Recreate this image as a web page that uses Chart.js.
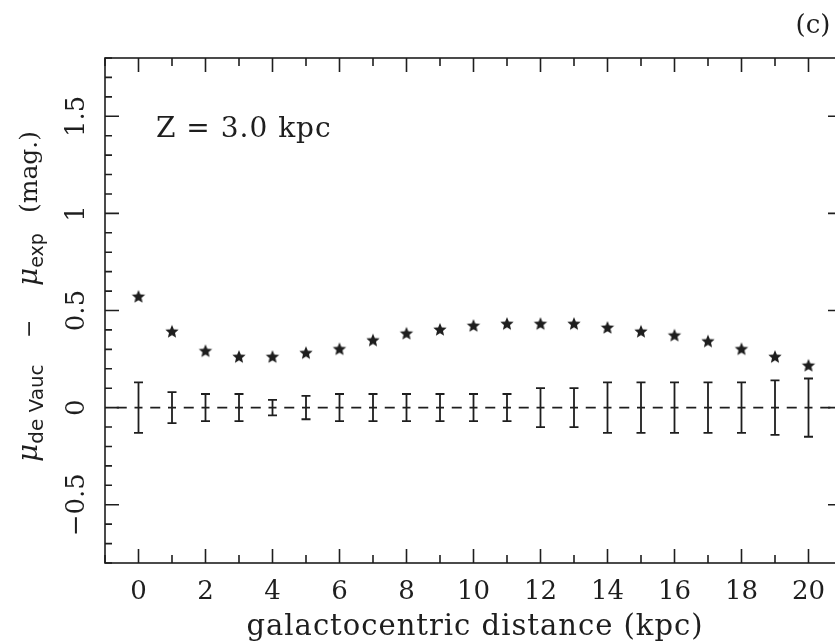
<!DOCTYPE html>
<html lang="en">
<head>
<meta charset="UTF-8">
<title>de Vaucouleurs minus exponential residuals, Z = 3.0 kpc</title>
<style>
  html, body { margin: 0; padding: 0; background: #fff; overflow: hidden; }
  #wrap { width: 860px; height: 644px; }
</style>
<script src="https://cdn.jsdelivr.net/npm/chart.js"></script>
</head>
<body>
<div id="wrap"><canvas id="chart" width="860" height="644"></canvas></div>
<script>
// data
const distances = [0, 1, 2, 3, 4, 5, 6, 7, 8, 9, 10, 11, 12, 13, 14, 15, 16, 17, 18, 19, 20];
const residuals = [0.57, 0.39, 0.29, 0.26, 0.26, 0.28, 0.30, 0.345, 0.38, 0.40, 0.42,
                   0.43, 0.43, 0.43, 0.41, 0.39, 0.37, 0.34, 0.30, 0.26, 0.215];
const errHalf   = [0.13, 0.08, 0.07, 0.07, 0.04, 0.06, 0.07, 0.07, 0.07, 0.07, 0.07,
                   0.07, 0.10, 0.10, 0.13, 0.13, 0.13, 0.13, 0.13, 0.14, 0.15];
const xTicks = [0, 2, 4, 6, 8, 10, 12, 14, 16, 18, 20];
const yTicks = [-0.5, 0, 0.5, 1, 1.5];
const yTickLabels = ['\u22120.5', '0', '0.5', '1', '1.5'];

const INK = '#1e1e1e';
const SERIF = '"DejaVu Serif", serif';
const SANS = '"DejaVu Sans", sans-serif';

// five pointed star marker
function makeStar(r) {
  const c = document.createElement('canvas');
  c.width = c.height = r * 2 + 2;
  const g = c.getContext('2d');
  g.translate(r + 1, r + 1);
  g.beginPath();
  for (let i = 0; i < 10; i++) {
    const rad = i % 2 === 0 ? r : r * 0.45;
    const a = -Math.PI / 2 + i * Math.PI / 5;
    g.lineTo(rad * Math.cos(a), rad * Math.sin(a));
  }
  g.closePath();
  g.fillStyle = INK;
  g.fill();
  return c;
}

const framePlugin = {
  id: 'frame',
  beforeDatasetsDraw(chart) {
    const ctx = chart.ctx;
    const a = chart.chartArea;
    const x = chart.scales.x, y = chart.scales.y;
    ctx.save();
    ctx.strokeStyle = INK;
    ctx.lineWidth = 1.6;
    ctx.strokeRect(a.left, a.top, a.right - a.left, a.bottom - a.top);

    // inward ticks
    for (let v = -1; v <= 21; v++) {
      const px = x.getPixelForValue(v);
      const len = v % 2 === 0 ? 14 : 8;
      ctx.beginPath();
      ctx.moveTo(px, a.bottom); ctx.lineTo(px, a.bottom - len);
      ctx.moveTo(px, a.top); ctx.lineTo(px, a.top + len);
      ctx.stroke();
    }
    for (let k = -8; k <= 18; k++) {
      const py = y.getPixelForValue(k / 10);
      const len = k % 5 === 0 ? 14 : 7;
      ctx.beginPath();
      ctx.moveTo(a.left, py); ctx.lineTo(a.left + len, py);
      ctx.moveTo(a.right, py); ctx.lineTo(a.right - len, py);
      ctx.stroke();
    }

    // dashed zero line, one dash between neighbouring bars
    const y0 = y.getPixelForValue(0);
    const step = x.getPixelForValue(1) - x.getPixelForValue(0);
    const dash = 10;
    ctx.setLineDash([dash, step - dash]);
    ctx.lineDashOffset = -(x.getPixelForValue(0.5) - dash / 2 - a.left);
    ctx.beginPath();
    ctx.moveTo(a.left, y0); ctx.lineTo(a.right, y0);
    ctx.stroke();
    ctx.setLineDash([]);

    // error bars about zero
    ctx.lineWidth = 1.8;
    distances.forEach((d, i) => {
      const px = x.getPixelForValue(d);
      const top = y.getPixelForValue(errHalf[i]);
      const bot = y.getPixelForValue(-errHalf[i]);
      ctx.beginPath();
      ctx.moveTo(px, top); ctx.lineTo(px, bot);
      ctx.moveTo(px - 4.5, top); ctx.lineTo(px + 4.5, top);
      ctx.moveTo(px - 4.5, bot); ctx.lineTo(px + 4.5, bot);
      ctx.moveTo(px - 4, y0); ctx.lineTo(px + 4, y0);
      ctx.stroke();
    });
    ctx.restore();
  },
  afterDraw(chart) {
    const ctx = chart.ctx;
    const a = chart.chartArea;
    const x = chart.scales.x, y = chart.scales.y;
    ctx.save();
    ctx.fillStyle = INK;

    // x tick labels
    ctx.font = '26px ' + SERIF;
    ctx.textAlign = 'center';
    ctx.textBaseline = 'middle';
    xTicks.forEach(v => ctx.fillText(String(v), x.getPixelForValue(v), a.bottom + 29));

    // y tick labels, rotated
    yTicks.forEach((v, i) => {
      ctx.save();
      ctx.translate(a.left - 28, y.getPixelForValue(v));
      ctx.rotate(-Math.PI / 2);
      ctx.fillText(yTickLabels[i], 0, 0);
      ctx.restore();
    });

    // x title
    ctx.font = '29px ' + SERIF;
    ctx.letterSpacing = '1px';
    ctx.fillText('galactocentric distance (kpc)', 475, a.bottom + 64);

    // panel letter
    ctx.letterSpacing = '0px';
    ctx.font = '26px ' + SERIF;
    ctx.fillText('(c)', 813, 26);

    // annotation
    ctx.textAlign = 'left';
    ctx.font = '28px ' + SERIF;
    ctx.letterSpacing = '1px';
    ctx.fillText('Z = 3.0 kpc', 156, 130);
    ctx.letterSpacing = '0px';

    // y title, rotated; each part placed by the screen y where it starts (bottom end)
    const parts = [
      { t: '\u03bc',    f: 'italic 28px ' + SERIF, dy: 0, at: 462 },
      { t: 'de Vauc',   f: '20px ' + SANS,         dy: 8 },
      { t: '\u2212',    f: '22px ' + SERIF,        dy: 0, at: 338 },
      { t: '\u03bc',    f: 'italic 28px ' + SERIF, dy: 0, at: 286 },
      { t: 'exp',       f: '19px ' + SANS,         dy: 8 },
      { t: '(mag.)',    f: '25px ' + SERIF,        dy: 0, at: 213 }
    ];
    ctx.translate(30, 0);
    ctx.rotate(-Math.PI / 2);
    ctx.textBaseline = 'middle';
    let cur = 0;
    parts.forEach(p => {
      ctx.font = p.f;
      if (p.at !== undefined) cur = p.at;
      ctx.fillText(p.t, -cur, p.dy);
      cur -= ctx.measureText(p.t).width;
    });
    ctx.restore();
  }
};

new Chart(document.getElementById('chart'), {
  type: 'scatter',
  data: {
    datasets: [{
      data: distances.map((d, i) => ({ x: d, y: residuals[i] })),
      pointStyle: makeStar(7),
      pointRadius: 7,
      pointHoverRadius: 7
    }]
  },
  options: {
    responsive: false,
    animation: false,
    events: [],
    layout: { padding: { left: 105, top: 58, right: 18, bottom: 81 } },
    scales: {
      x: { type: 'linear', min: -1, max: 21, display: false },
      y: { type: 'linear', min: -0.8, max: 1.8, display: false }
    },
    plugins: { legend: { display: false }, tooltip: { enabled: false } }
  },
  plugins: [framePlugin]
});
</script>
</body>
</html>
